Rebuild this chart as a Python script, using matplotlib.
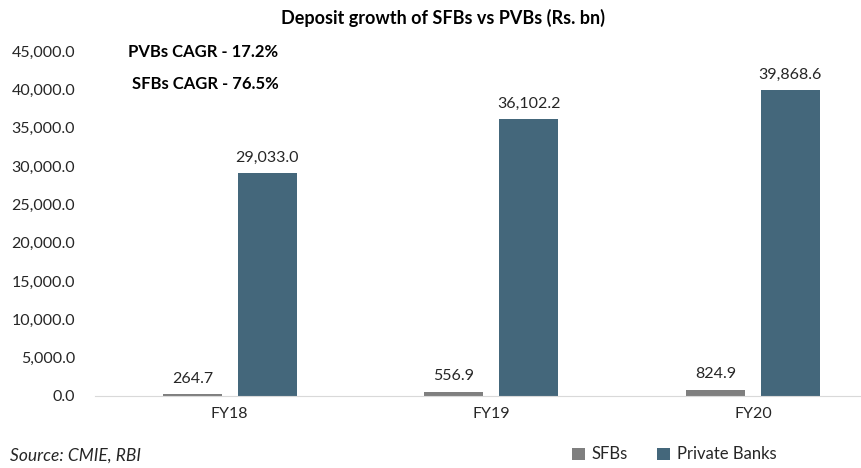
import matplotlib
matplotlib.use("Agg")
import matplotlib.pyplot as plt
import numpy as np
from matplotlib.ticker import FuncFormatter, MultipleLocator

categories = ["FY18", "FY19", "FY20"]
sfbs = [264.7, 556.9, 824.9]
pvbs = [29033.0, 36102.2, 39868.6]
series_names = ["SFBs", "Private Banks"]
title = "Deposit growth of SFBs vs PVBs (Rs. bn)"
notes = ["PVBs CAGR - 17.2%", "SFBs CAGR - 76.5%"]
source = "Source: CMIE, RBI"

plt.rcParams['font.family'] = ['Lato', 'DejaVu Sans']

fig = plt.figure(figsize=(8.61, 4.68), dpi=100)
ax = fig.add_axes([0.110, 0.154, 0.889, 0.737])

x = np.arange(len(categories))
w = 0.226
off = 0.143
c_sfb = "#7f7f7f"
c_pvb = "#44677b"
b1 = ax.bar(x - off, sfbs, w, color=c_sfb, label=series_names[0])
b2 = ax.bar(x + off, pvbs, w, color=c_pvb, label=series_names[1])

for bars, vals in ((b1, sfbs), (b2, pvbs)):
    for r, v in zip(bars, vals):
        ax.annotate(f"{v:,.1f}", (r.get_x() + r.get_width() / 2, v),
                    xytext=(0, 6), textcoords="offset points",
                    ha="center", va="bottom", fontsize=11.5, color="#262626")

ax.set_ylim(0, 45000)
ax.set_xlim(-0.516, 2.41)
ax.yaxis.set_major_locator(MultipleLocator(5000))
ax.yaxis.set_major_formatter(FuncFormatter(lambda v, p: f"{v:,.1f}"))
ax.set_xticks(x)
ax.set_xticklabels(categories)
ax.tick_params(axis="both", length=0, labelsize=11.5, colors="#262626")
ax.tick_params(axis="y", pad=14)
ax.tick_params(axis="x", pad=8)
for s in ("top", "right", "left"):
    ax.spines[s].set_visible(False)
ax.spines["bottom"].set_color("#d9d9d9")

fig.text(0.514, 0.962, title, ha="center", va="center", fontsize=13, fontweight="bold", color="#000000")
fig.text(0.149, 0.889, notes[0], ha="left", va="center", fontsize=12, fontweight="bold")
fig.text(0.153, 0.820, notes[1], ha="left", va="center", fontsize=12, fontweight="bold")
fig.text(0.012, 0.027, source, ha="left", va="center", fontsize=12.5, style="italic", color="#262626")

leg = fig.legend(handles=[b1, b2], labels=series_names, loc="center", bbox_to_anchor=(0.783, 0.029),
                 ncol=2, frameon=False, fontsize=12, handlelength=0.75, handleheight=0.75,
                 handletextpad=0.4, columnspacing=1.8)
for t in leg.get_texts():
    t.set_color("#262626")

fig.savefig("out.png", dpi=100)
